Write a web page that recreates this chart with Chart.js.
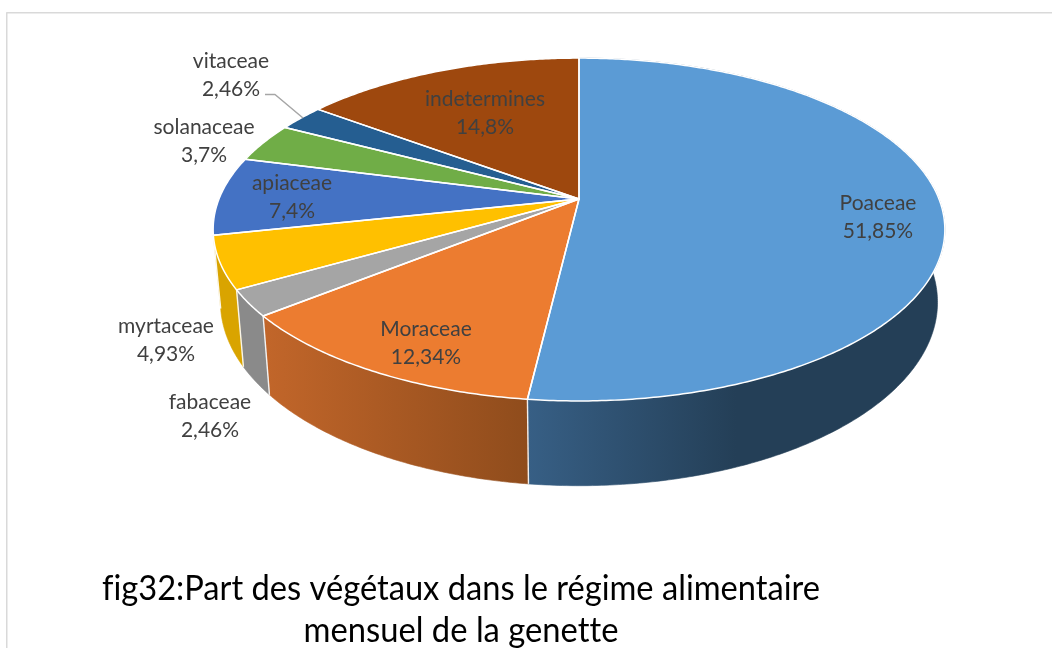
<!DOCTYPE html>
<html><head><meta charset="utf-8">
<style>html,body{margin:0;padding:0;background:#fff}canvas{display:block}</style>
<script src="https://cdn.jsdelivr.net/npm/chart.js@4"></script>
</head><body>
<canvas id="c" width="1052" height="648"></canvas>
<script>
const categories = ["Poaceae","Moraceae","fabaceae","myrtaceae","apiaceae","solanaceae","vitaceae","indetermines"];
const shares = [51.85,12.34,2.46,4.93,7.4,3.7,2.46,14.8];
const titleLines = ["fig32:Part des végétaux dans le régime alimentaire","mensuel de la genette"];

const topColors = ["#5B9BD5","#EC7C30","#A5A5A5","#FFC000","#4472C4","#70AD47","#255E91","#9E480E"];
const wallStops = [
  [[0,"#375f85"],[0.5,"#243f57"],[1,"#243f57"]],
  [[0,"#c2662a"],[1,"#8f4c1c"]],
  [[0,"#8a8a8a"],[1,"#8a8a8a"]],
  [[0,"#d9a400"],[1,"#d9a400"]],
  [[0,"#3a62a8"],[1,"#3a62a8"]],
  [[0,"#5f933c"],[1,"#5f933c"]],
  [[0,"#1f507c"],[1,"#1f507c"]],
  [[0,"#863d0c"],[1,"#863d0c"]]
];
const labelAnchors = [[878,203],[426,329],[210,402],[166,326],[292,183],[204,127],[231,61],[485,99]];
const LABEL_FONT = '21px Lato, "Open Sans", sans-serif';
const TITLE_FONT = '35px Lato, "Open Sans", sans-serif';

// perspective view of the disc
const view = {cx:579, cy:199, rx:360, ry:166, k:-0.178};
function project(a, r){
  const u = Math.cos(a)*r, v = Math.sin(a)*r, w = 1 + view.k*v;
  return [view.cx + view.rx*u/w, view.cy + view.ry*v/w];
}
function lower(p){
  return [view.cx + 0.98*(p[0]-view.cx), 367 + 1.07*(p[1]-290)];
}
function rim(start, end){
  const n = Math.max(2, Math.ceil((end-start)/0.01)), pts = [];
  for(let i=0;i<=n;i++) pts.push(project(start+(end-start)*i/n, 1));
  return pts;
}
function trace(ctx, pts){
  ctx.beginPath();
  pts.forEach((p,i)=> i ? ctx.lineTo(p[0],p[1]) : ctx.moveTo(p[0],p[1]));
}

const perspectivePie = {
  id:'perspectivePie',
  beforeDatasetsDraw(chart){
    const ctx = chart.ctx, arcs = chart.getDatasetMeta(0).data;
    ctx.save();
    ctx.lineJoin = 'round';
    ctx.textRendering = 'optimizeSpeed';
    // side walls: only slices on the near half of the disc show one
    arcs.forEach((arc,i)=>{
      if(Math.sin((arc.startAngle+arc.endAngle)/2) <= 0) return;
      const top = rim(arc.startAngle, arc.endAngle), bot = top.map(lower);
      const xs = top.concat(bot).map(p=>p[0]);
      const g = ctx.createLinearGradient(Math.min(...xs),0,Math.max(...xs),0);
      wallStops[i].forEach(s=>g.addColorStop(s[0],s[1]));
      trace(ctx, top.concat(bot.slice().reverse()));
      ctx.closePath();
      ctx.fillStyle = g; ctx.fill();
      ctx.strokeStyle = g; ctx.lineWidth = 0.6; ctx.stroke();
    });
    // wall separators on the visible front side
    arcs.forEach(arc=>{
      const p = project(arc.endAngle,1);
      if(Math.sin(arc.endAngle) > 0.2){
        const q = lower(p);
        ctx.beginPath(); ctx.moveTo(p[0],p[1]); ctx.lineTo(q[0],q[1]);
        ctx.strokeStyle = 'rgba(255,255,255,0.9)'; ctx.lineWidth = 1.4; ctx.stroke();
      }
    });
    // top faces
    arcs.forEach((arc,i)=>{
      const pts = [project(0,0)].concat(rim(arc.startAngle, arc.endAngle));
      trace(ctx, pts); ctx.closePath();
      ctx.fillStyle = arc.options.backgroundColor; ctx.fill();
    });
    arcs.forEach(arc=>{
      const pts = [project(0,0)].concat(rim(arc.startAngle, arc.endAngle));
      trace(ctx, pts); ctx.closePath();
      ctx.strokeStyle = '#fff'; ctx.lineWidth = 1.5; ctx.stroke();
    });
    // frame
    ctx.strokeStyle = '#d9d9d9'; ctx.lineWidth = 1.5;
    ctx.beginPath(); ctx.moveTo(6.75,648); ctx.lineTo(6.75,12.75); ctx.lineTo(1052,12.75); ctx.stroke();
    // leader line
    ctx.strokeStyle = '#a6a6a6'; ctx.lineWidth = 1.5;
    ctx.beginPath(); ctx.moveTo(265,94.5); ctx.lineTo(275,94.5); ctx.lineTo(303,118); ctx.stroke();
    // labels
    ctx.fillStyle = '#404040'; ctx.font = LABEL_FONT; ctx.textAlign = 'center'; ctx.textBaseline = 'middle';
    categories.forEach((name,i)=>{
      const a = labelAnchors[i];
      ctx.fillText(name, a[0], a[1]);
      ctx.fillText(String(shares[i]).replace('.',',')+'%', a[0], a[1]+28);
    });
    // title
    ctx.fillStyle = '#000'; ctx.font = TITLE_FONT;
    ctx.fillText(titleLines[0], 461, 589, 718);
    ctx.fillText(titleLines[1], 461, 631, 315);
    ctx.restore();
    return false;
  }
};

new Chart(document.getElementById('c'), {
  type:'pie',
  data:{labels:categories, datasets:[{data:shares, backgroundColor:topColors, borderWidth:0}]},
  options:{
    responsive:false, animation:false,
    layout:{padding:{left:438,right:332,top:58,bottom:308}},
    plugins:{legend:{display:false}, tooltip:{enabled:false}, title:{display:false}}
  },
  plugins:[perspectivePie]
});
</script>
</body></html>
